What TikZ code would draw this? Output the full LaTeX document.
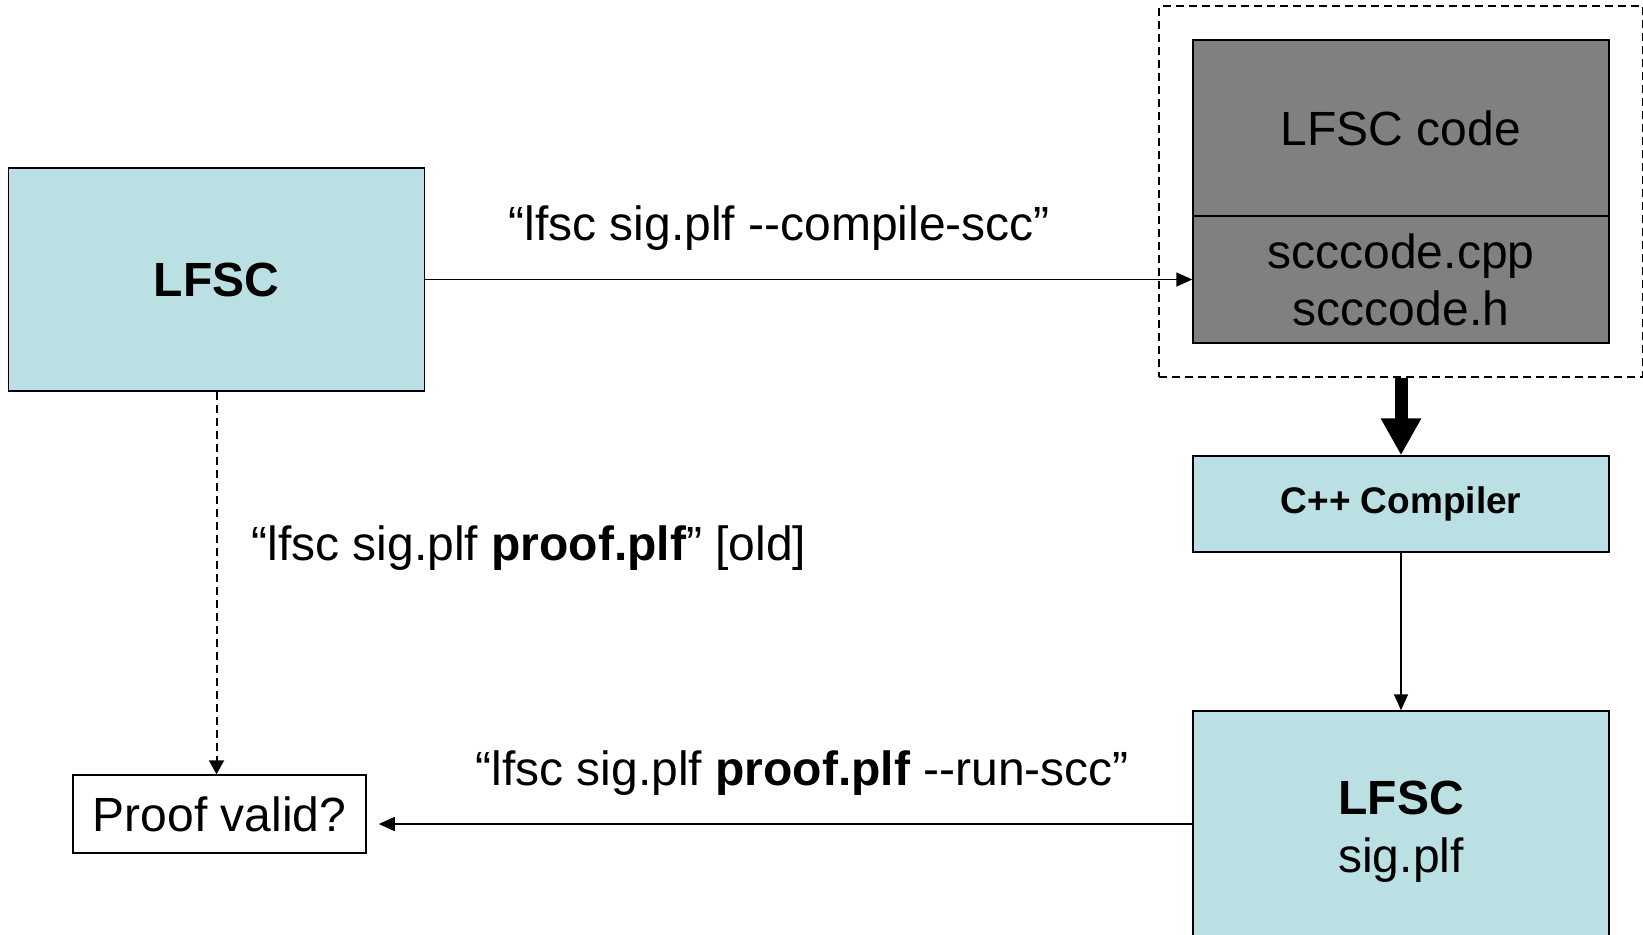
\documentclass[tikz,border=0pt]{standalone}
\usepackage{fontspec}
\setmainfont{Liberation Sans}
\usetikzlibrary{arrows.meta,fit}
\definecolor{paleblue}{RGB}{187,224,227}
\definecolor{midgray}{RGB}{128,128,128}
\newcommand{\dd}{\mbox{-}\mbox{-}}
\tikzset{
  bluebox/.style={draw, line width=0.75pt, fill=paleblue, inner sep=0pt,
    minimum width=208pt, align=center},
  graybox/.style={draw, line width=0.75pt, fill=midgray, inner sep=0pt,
    minimum width=208pt, align=center},
  big/.style={font=\fontsize{24pt}{28.5pt}\selectfont},
  lbl/.style={inner sep=0pt, font=\fontsize{24pt}{28.5pt}\selectfont},
  thin arrow/.style={line width=0.8pt, -{Triangle[length=8pt,width=7pt]}},
}
\begin{document}
\begin{tikzpicture}[x=0.5pt, y=-0.5pt]
\useasboundingbox (0,0) rectangle (1643,934);
\clip (0,0) rectangle (1643,934);

% left tool box
\node[bluebox, minimum height=111.5pt, font=\fontsize{24pt}{28.5pt}\selectfont\bfseries]
  (lfsc) at (216.5,279.5) {LFSC};

% generated code, in a dashed frame
\node[graybox, minimum height=88pt, big] (code) at (1401,128) {LFSC code};
\node[graybox, minimum height=63.5pt, big] (files) at (1401,279.5)
  {scccode.cpp\\scccode.h};
\node[draw, dash pattern=on 4pt off 2.5pt, line width=1.1pt, inner sep=16.5pt,
  fit=(code)(files)] (frame) {};

% compiler and compiled checker
\node[bluebox, minimum height=48pt, font=\fontsize{18.5pt}{22pt}\selectfont\bfseries]
  (cpp) at (1401,504) {C++ Compiler};
\node[bluebox, minimum height=121pt, font=\fontsize{24pt}{29pt}\selectfont]
  (lfsc2) at (1401,832) {\textbf{LFSC}\\sig.plf};
\coordinate (retstart) at ([yshift=4pt]lfsc2.west);

% result
\node[draw, line width=0.75pt, inner sep=0pt, minimum width=146.5pt,
  minimum height=39pt, big] (proof) at (219.5,814) {Proof valid?};

% labels
\node[lbl, anchor=west] (lcompile) at (508,228) {“lfsc sig.plf \dd compile-scc”};
\node[lbl, anchor=west] (lold) at (251,548) {“lfsc sig.plf \textbf{proof.plf}” [old]};
\node[lbl, anchor=west] (lrun) at (475,773) {“lfsc sig.plf \textbf{proof.plf} \dd run-scc”};

% connectors
\draw[thin arrow] (lfsc.east) -- (files.west);
\draw[line width=1pt, dash pattern=on 4pt off 2.5pt,
  -{Triangle[length=7pt,width=7.5pt]}] (lfsc.south) -- (lfsc.south |- proof.north);
\draw[line width=6.5pt, -{Triangle[length=18.5pt,width=19pt]}]
  (frame.south) -- (cpp.north);
\draw[thin arrow] (cpp.south) -- (lfsc2.north);
\draw[thin arrow, shorten >=6pt] (retstart) -- (proof.east |- retstart);
\end{tikzpicture}
\end{document}
